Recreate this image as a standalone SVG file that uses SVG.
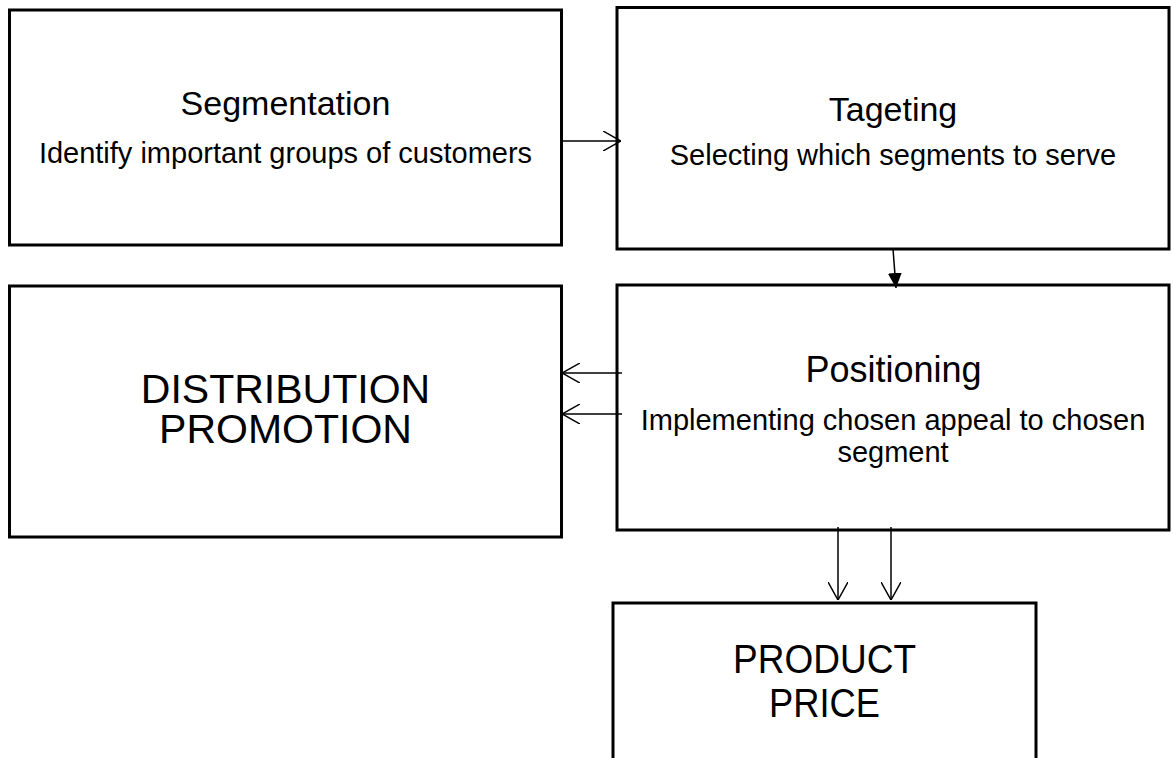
<svg xmlns="http://www.w3.org/2000/svg" width="1173" height="758" viewBox="0 0 1173 758">
  <style>
    .box { fill: #ffffff; stroke: #000000; stroke-width: 3; }
    .t { font-family: "Liberation Sans", Arial, sans-serif; fill: #000000; text-anchor: middle; }
    .head { font-size: 34px; }
    .sub { font-size: 29px; }
    .big { font-size: 41px; }
    .link { fill: none; stroke: #000000; stroke-width: 1.5; }
  </style>
  <defs>
    <marker id="open" viewBox="0 0 18 20" refX="18" refY="10" markerWidth="18" markerHeight="20" markerUnits="userSpaceOnUse" orient="auto">
      <path d="M0,0 L18,10 L0,20" fill="none" stroke="#000000" stroke-width="1.5"/>
    </marker>
    <marker id="solid" viewBox="0 0 15 14" refX="15" refY="7" markerWidth="15" markerHeight="14" markerUnits="userSpaceOnUse" orient="auto">
      <path d="M0,0 L15,7 L0,14 Z" fill="#000000"/>
    </marker>
  </defs>

  <rect width="1173" height="758" fill="#ffffff"/>

  <g id="segmentation">
    <rect class="box" x="9.5" y="10" width="552" height="235"/>
    <text class="t head" x="285.5" y="115">Segmentation</text>
    <text class="t sub" x="285.5" y="163">Identify important groups of customers</text>
  </g>

  <g id="targeting">
    <rect class="box" x="617" y="7.5" width="552" height="241.5"/>
    <text class="t head" x="893" y="121">Tageting</text>
    <text class="t sub" x="893" y="165">Selecting which segments to serve</text>
  </g>

  <g id="positioning">
    <rect class="box" x="617" y="285" width="552" height="245"/>
    <text class="t head" x="893.5" y="382" style="font-size:36px">Positioning</text>
    <text class="t sub" x="893" y="430">Implementing chosen appeal to chosen</text>
    <text class="t sub" x="893" y="462">segment</text>
  </g>

  <g id="distribution">
    <rect class="box" x="9.5" y="286" width="552" height="251"/>
    <text class="t big" x="285.5" y="403">DISTRIBUTION</text>
    <text class="t big" x="285.5" y="443">PROMOTION</text>
  </g>

  <g id="product">
    <rect class="box" x="613" y="603" width="423" height="200"/>
    <text class="t big" x="824.5" y="673" textLength="183" lengthAdjust="spacingAndGlyphs">PRODUCT</text>
    <text class="t big" x="824.5" y="717" textLength="111" lengthAdjust="spacingAndGlyphs">PRICE</text>
  </g>

  <g id="connectors">
    <path class="link" d="M562,141 L621,141" marker-end="url(#open)"/>
    <path class="link" d="M893,249 L896,288" marker-end="url(#solid)"/>
    <path class="link" d="M622,373 L562,373" marker-end="url(#open)"/>
    <path class="link" d="M622,414 L562,414" marker-end="url(#open)"/>
    <path class="link" d="M838,527 L838,600" marker-end="url(#open)"/>
    <path class="link" d="M891,527 L891,600" marker-end="url(#open)"/>
  </g>
</svg>
